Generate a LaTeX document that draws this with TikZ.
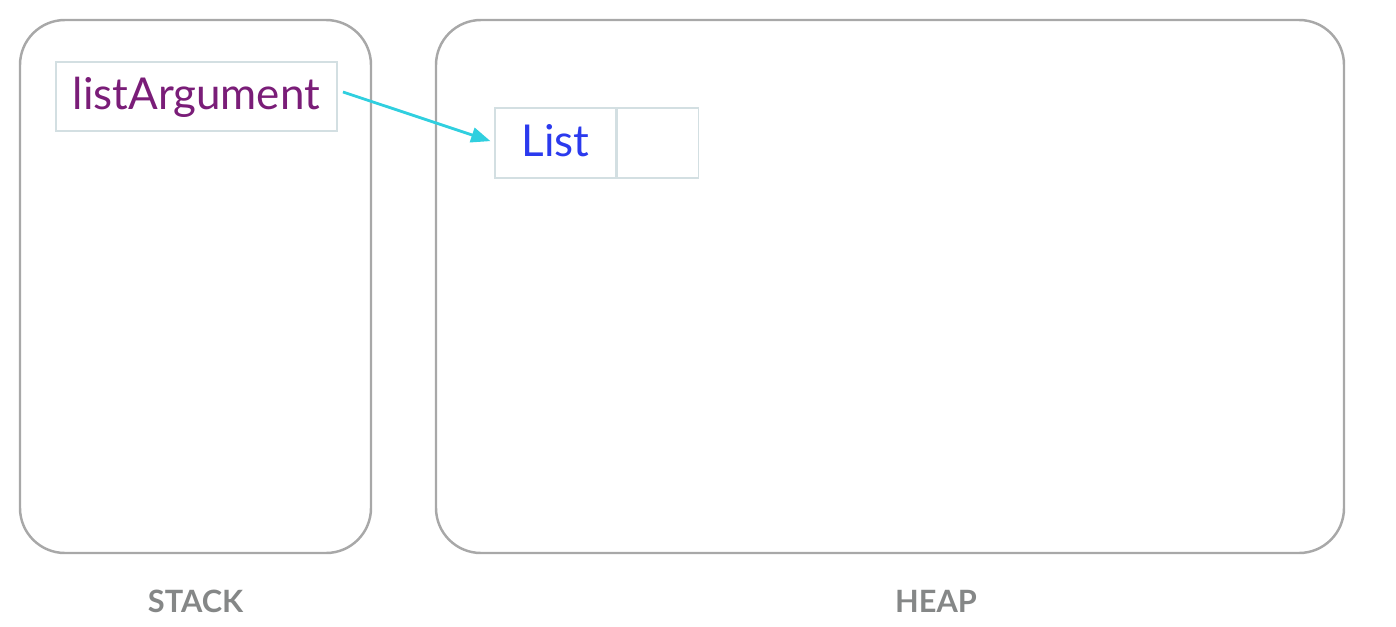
\documentclass[tikz,border=0pt]{standalone}
\usepackage{fontspec}
\setmainfont{Lato}
\usetikzlibrary{positioning, arrows.meta}
\definecolor{framegray}{HTML}{A8A8A8}
\definecolor{cellline}{HTML}{D3DFE2}
\definecolor{varpurple}{HTML}{7A1D78}
\definecolor{objblue}{HTML}{2B3AEE}
\definecolor{ptrcyan}{HTML}{30CFDF}
\definecolor{labelgray}{HTML}{858787}

\begin{document}
\begin{tikzpicture}[
  x=0.02cm, y=-0.02cm,
  region/.style={draw=framegray, line width=1.4pt, rounded corners=0.9cm},
  cell/.style={rectangle, draw=cellline, line width=1pt, inner sep=0pt},
  area/.style={font=\fontsize{17.5}{20}\selectfont\bfseries, text=labelgray},
  pointer/.style={-{Triangle[length=11pt, width=8.5pt]}, draw=ptrcyan, line width=1.6pt}
]
\useasboundingbox (0,0) rectangle (1396,626);

% Regions
\draw[region] (20,20) rectangle (371,553);
\draw[region] (436,20) rectangle (1344,553);
\node[area] (stack) at (195.5,601) {STACK};
\node[area] (heap) at (936,601) {HEAP};

% Variable on the stack
\node[cell, anchor=north west, minimum width=5.62cm, minimum height=1.38cm,
      text height=20pt, text depth=5pt,
      font=\fontsize{25}{30}\selectfont, text=varpurple] (arg) at (55,61) {listArgument};

% Object on the heap
\node[cell, anchor=north west, minimum width=2.42cm, minimum height=1.4cm,
      text height=20pt, text depth=4pt,
      font=\fontsize{25}{30}\selectfont, text=objblue] (list) at (494,107) {List};
\node[cell, right=0pt of list, minimum width=1.62cm, minimum height=1.4cm] (slot) {};

% Reference
\draw[pointer] ([xshift=3pt, yshift=2.5pt]arg.east) -- ([xshift=-2pt, yshift=1pt]list.west);

\end{tikzpicture}
\end{document}
